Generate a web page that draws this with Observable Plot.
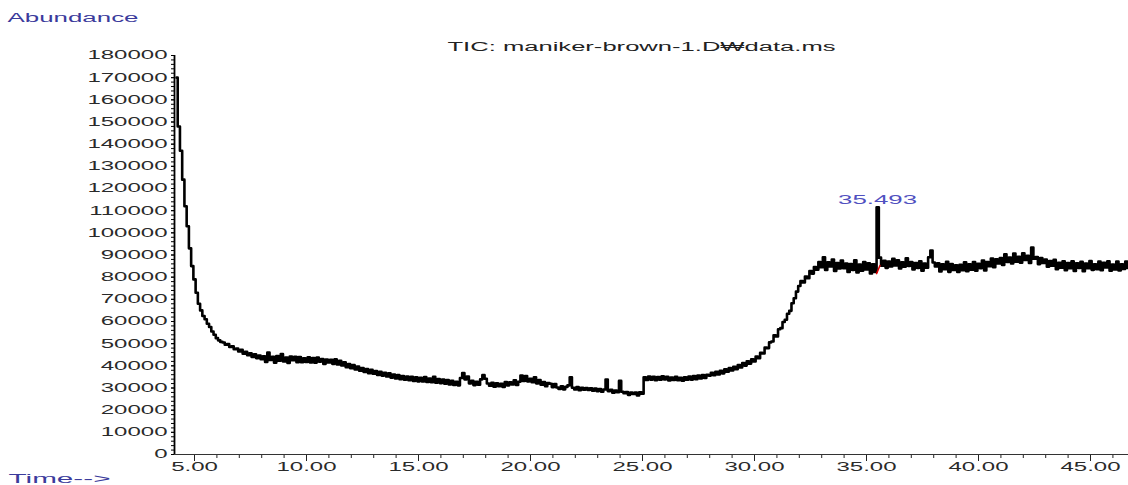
<!DOCTYPE html>
<html><head><meta charset="utf-8">
<script src="https://cdn.jsdelivr.net/npm/d3@7"></script>
<script src="https://cdn.jsdelivr.net/npm/@observablehq/plot@0.6"></script>
<style>html,body{margin:0;padding:0;background:#fff;overflow:hidden;}</style>
</head><body>
<script>
const scanStart = 4.2, scanStep = 0.1;
// TIC abundance, one value per scan
const abundance = [
  170000,148000,137000,124000,112000,103000,93000,85000,
  79000,73000,68000,65000,62500,61000,59000,57500,55500,54000,
  52500,51500,50800,50500,49500,49800,48500,48800,47500,47800,
  46500,47200,45500,46300,44800,45600,44000,45200,43500,44600,
  43000,44300,41700,46000,42600,44100,41400,44400,42300,45300,
  42000,43700,41300,44200,42500,44100,41600,44000,41600,43400,
  41700,43800,41500,43500,41400,43700,41900,43100,40800,42800,
  41500,42700,40900,42900,40600,42300,40200,41600,39400,40800,
  38900,40300,38400,39700,37800,39000,37200,38500,36700,38200,
  36400,37700,35900,37300,35600,36900,35200,36600,34700,36100,
  34300,35800,34000,35400,33700,35200,33500,35000,33200,34800,
  33000,34600,32900,34900,32700,34300,32600,35100,32400,34000,
  32200,33800,31900,33600,31600,33200,31400,32800,31200,34500,
  36800,33900,35200,32100,33300,31300,32800,31500,33900,35800,
  34200,32000,31000,32300,30600,32100,30800,31900,30500,32700,
  31200,32600,31600,33500,31400,32800,35600,33200,35400,33000,
  34200,32600,34800,32100,33600,31500,32700,30800,32200,31900,
  30400,31800,30200,29600,30800,29400,30500,31200,34800,30100,
  29300,30400,29000,30100,29200,30000,29100,29900,28800,29700,
  28600,29500,28300,29300,33800,28600,29200,27900,28900,28100,
  33200,28300,27600,28200,26900,28000,27300,27900,26600,28100,
  27400,34800,33600,35200,33800,35000,33500,34900,33700,35300,
  33900,35000,33400,34700,33600,35100,33500,34600,33300,34800,
  33700,35200,33800,35400,34000,35600,34300,35800,34500,36000,
  35600,36900,35800,37300,36100,37800,36600,38400,37300,39000,
  37900,39600,38500,40300,39300,41200,40100,42000,41000,42900,
  42000,44200,43400,45900,45600,48200,48000,50600,51000,53800,
  53200,56500,57000,59800,60800,63500,64800,68200,70500,73500,
  76000,78200,77600,80300,79500,82800,81600,84600,83400,86800,
  84500,89000,83200,86700,84800,88000,82800,86400,83900,87500,
  84000,86100,82300,85900,83300,87600,82100,85700,82900,86800,
  83500,86300,81700,85800,82400,111500,88800,85200,87400,84200,
  87100,84800,88300,85300,87600,83900,86700,84700,88500,85100,
  86800,83500,86400,84200,87200,82900,86100,84300,89000,92000,
  86600,84800,86300,82600,85800,83600,86900,82400,85900,83200,
  85300,82300,85600,83100,86700,82700,85800,83400,86800,82900,
  86000,84100,87500,83000,86800,84900,88400,84500,88100,86200,
  88600,85500,90300,86900,88800,86200,90700,87000,89200,86500,
  90800,87800,89600,86400,93400,88300,89100,85900,88600,86400,
  87900,84700,87300,85200,87800,83600,86500,84300,87200,83100,
  86400,84000,87200,82800,86300,84200,86900,82700,86100,84000,
  87300,83300,85800,83600,87000,83100,86500,84400,87200,82900,
  85700,83500,87100,83000,85800,83700,87000,84200
];
const xTicks = [5, 10, 15, 20, 25, 30, 35, 40, 45];
const yTicks = [0,10000,20000,30000,40000,50000,60000,70000,80000,90000,100000,110000,120000,130000,140000,150000,160000,170000,180000];
const xDomain = [4.107, 46.696];
const yDomain = [0, 180000];
const peak = [{time: 35.493, abundance: 111500, label: "35.493"}];
const peakBaseline = [{time: 35.45, abundance: 81600}, {time: 35.6, abundance: 85300}];
const titleText = "TIC: maniker-brown-1.D\u20A9data.ms";
const yLabel = "Abundance";
const xLabel = "Time-->";

const trace = abundance.map((v, i) => ({time: +(scanStart + i * scanStep).toFixed(2), abundance: v}));

const plot = Plot.plot({
  width: 1128, height: 485,
  marginLeft: 174, marginRight: 0, marginTop: 55, marginBottom: 31,
  style: {fontFamily: "'Liberation Sans', Arial, sans-serif", fontSize: "12px", background: "#fff", overflow: "visible"},
  x: {domain: xDomain},
  y: {domain: yDomain},
  marks: [
    Plot.axisY({ticks: d3.range(0, 180001, 2000), tickSize: 3, tickFormat: () => "", label: null, stroke: "#000"}),
    Plot.axisY({ticks: yTicks, tickSize: 3, tickPadding: 4, tickFormat: d => String(d), label: null, stroke: "#000", fill: "#2a2a2a"}),
    Plot.axisX({ticks: d3.range(5, 47, 1), tickSize: 4, tickFormat: () => "", label: null, stroke: "#222"}),
    Plot.axisX({ticks: xTicks, tickSize: 7, tickPadding: 1, tickFormat: d => d.toFixed(2), label: null, stroke: "#222", fill: "#2a2a2a"}),
    Plot.ruleX([xDomain[0]], {stroke: "#000", strokeWidth: 1.8}),
    Plot.ruleY([0], {stroke: "#333", strokeWidth: 1}),
    Plot.line(trace, {x: "time", y: "abundance", curve: "step", stroke: "#000", strokeWidth: 2.6}),
    Plot.line(peakBaseline, {x: "time", y: "abundance", stroke: "#e00000", strokeWidth: 1.5}),
    Plot.text(peak, {x: "time", y: "abundance", text: "label", dy: -3, lineAnchor: "bottom", fill: "#5050c0"}),
    Plot.text([titleText], {frameAnchor: "top", dx: -10, dy: -5, lineAnchor: "bottom", fill: "#222"}),
    Plot.text([yLabel], {frameAnchor: "top-left", textAnchor: "start", dx: -167, dy: -34, lineAnchor: "bottom", fill: "#3b3b9c"}),
    Plot.text([xLabel], {frameAnchor: "bottom-left", textAnchor: "start", dx: -166, dy: 28, lineAnchor: "bottom", fill: "#3b3b9c"})
  ]
});
document.body.appendChild(plot);

// The reference glyphs are drawn horizontally stretched: widen each text to its measured length
const widths = {[titleText]: 388, [yLabel]: 131, [xLabel]: 102, "35.493": 79};
plot.querySelectorAll("text").forEach(t => {
  const s = t.textContent;
  if (!s) return;
  const w = widths[s] !== undefined ? widths[s] : t.getComputedTextLength() * 2.0;
  t.setAttribute("textLength", w);
  t.setAttribute("lengthAdjust", "spacingAndGlyphs");
});
</script>
</body></html>
